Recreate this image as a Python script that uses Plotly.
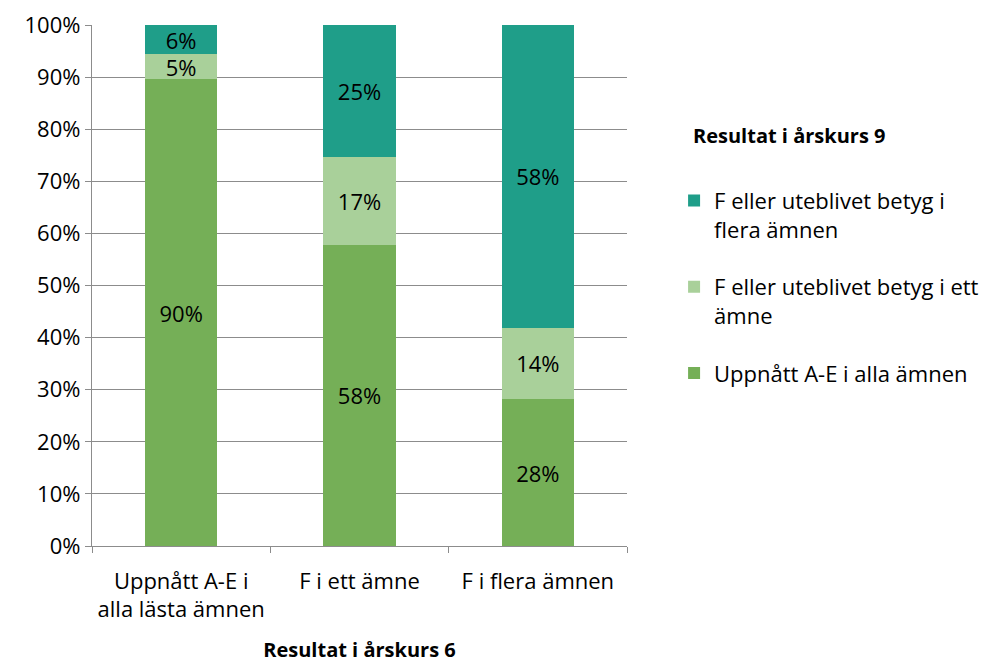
import plotly.graph_objects as go

categories = ["Uppnått A-E i<br>alla lästa ämnen", "F i ett ämne", "F i flera ämnen"]

uppnatt = [89.6, 57.8, 28.2]
f_ett = [4.8, 16.8, 13.7]
f_flera = [5.6, 25.4, 58.1]

series = [
    ("Uppnått A-E i alla ämnen", uppnatt, "#75AF57"),
    ("F eller uteblivet betyg i ett<br>ämne", f_ett, "#A9D09A"),
    ("F eller uteblivet betyg i<br>flera ämnen", f_flera, "#1F9E89"),
]

font = "'Open Sans', Lato, sans-serif"
fs = 22

fig = go.Figure()
for i, (name, vals, color) in enumerate(series):
    fig.add_trace(go.Bar(
        x=categories, y=vals, name=name, legendgroup=str(i),
        legendrank=10 - i,
        marker=dict(color=color, line=dict(width=0)),
        texttemplate="%{y:.0f}%", textposition="inside",
        insidetextanchor="middle",
        textfont=dict(color="black", size=fs, family=font),
    ))

# page body has an 8px margin, so offsets are compensated here
fig.update_layout(
    barmode="stack", bargap=0.595,
    width=995, height=662,
    margin=dict(l=84, r=376, t=17, b=124),
    paper_bgcolor="white", plot_bgcolor="white",
    font=dict(family=font, size=fs, color="black"),
    uniformtext=dict(minsize=fs, mode="show"),
    legend=dict(
        traceorder="grouped", tracegroupgap=26, valign="top",
        x=1.088, xanchor="left", y=0.703, yanchor="top",
        font=dict(size=fs), itemwidth=30,
    ),
    showlegend=True,
)
fig.add_annotation(
    text="<b>Resultat i årskurs 9</b>", xref="paper", yref="paper",
    x=1.12, y=0.787, xanchor="left", yanchor="middle",
    showarrow=False, font=dict(size=20),
)
fig.update_yaxes(
    range=[0, 100], dtick=10, ticksuffix="%", automargin=False,
    ticklabeloverflow="allow",
    showgrid=True, gridcolor="#8C8C8C", gridwidth=1.3,
    showline=True, linecolor="#8C8C8C", linewidth=1.3,
    ticks="outside", ticklen=6, tickcolor="#8C8C8C", tickwidth=1.3,
    zeroline=False, tickfont=dict(size=fs),
)
fig.update_xaxes(
    showline=True, linecolor="#8C8C8C", linewidth=1.3, automargin=False,
    ticks="outside", ticklen=6, tickcolor="#8C8C8C", tickwidth=1.3,
    tickson="boundaries", tickfont=dict(size=fs), ticklabelstandoff=15,
    title=dict(text="<b>Resultat i årskurs 6</b>", font=dict(size=20), standoff=20),
)

fig.write_html("out.html")
